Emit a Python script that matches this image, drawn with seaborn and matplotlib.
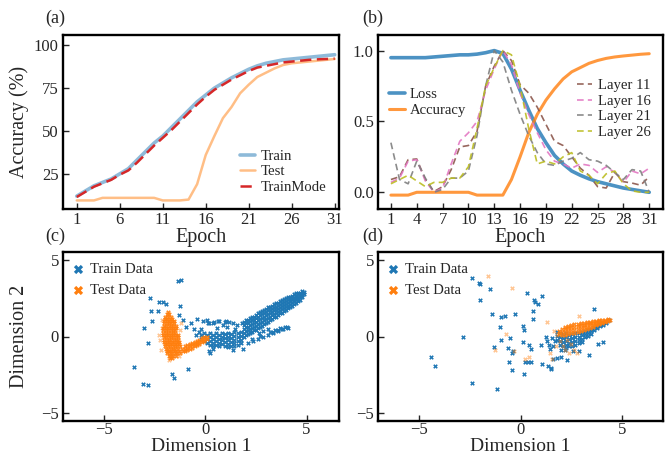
import numpy as np
import pandas as pd
import matplotlib
matplotlib.use("Agg")
import matplotlib.pyplot as plt
import seaborn as sns

sns.set_style("ticks")
plt.rcParams['font.family'] = ['Liberation Serif', 'DejaVu Serif']

# ---------------- data ----------------
epochs = list(range(1, 32))
acc_train = [12, 15, 18, 20, 22, 25, 28, 33, 38, 43, 47, 52, 57, 62, 67, 71, 75, 78, 81, 83.5,
             86, 88, 89.5, 90.5, 91.5, 92, 92.5, 93, 93.5, 94, 94.5]
acc_test = [9.5, 9.5, 9.5, 11, 11, 11, 11, 11, 11, 11, 9.5, 9.5, 9.5, 10, 19, 36, 47, 57.5, 64, 72,
            77, 81.5, 84, 86.5, 88.5, 89.5, 90, 90.5, 91, 91.5, 92]
acc_trainmode = [11.5, 14.5, 17.5, 19.5, 21.5, 24.5, 27, 31.5, 36.5, 41.5, 46, 50.5, 55.5, 60.5, 65.5,
                 70, 74, 77, 80, 82.5, 85, 87, 88, 89, 90, 90.5, 91, 91.5, 91.8, 92, 92.2]

loss_norm = [0.95, 0.95, 0.95, 0.95, 0.95, 0.955, 0.96, 0.965, 0.97, 0.97, 0.975, 0.985, 1.0, 0.98,
             0.87, 0.72, 0.58, 0.45, 0.35, 0.26, 0.2, 0.15, 0.12, 0.095, 0.075, 0.06, 0.045, 0.03,
             0.02, 0.01, 0.0]
acc_norm = [-0.02, -0.02, -0.02, 0.0, 0.0, 0.0, 0.0, 0.0, 0.0, 0.0, -0.02, -0.02, -0.02, -0.02, 0.09,
            0.25, 0.42, 0.55, 0.65, 0.73, 0.8, 0.85, 0.88, 0.91, 0.93, 0.945, 0.955, 0.962, 0.968,
            0.974, 0.978]
layer11 = [0.09, 0.11, 0.23, 0.235, 0.09, 0.005, 0.04, 0.16, 0.32, 0.33, 0.43, 0.75, 0.89, 1.0, 0.93,
           0.76, 0.70, 0.60, 0.48, 0.36, 0.33, 0.25, 0.17, 0.12, 0.04, 0.03, 0.14, 0.075, 0.065, 0.05, 0.11]
layer16 = [0.07, 0.10, 0.22, 0.23, 0.08, 0.0, 0.03, 0.20, 0.36, 0.42, 0.50, 0.72, 0.87, 1.0, 0.90,
           0.70, 0.55, 0.42, 0.30, 0.22, 0.20, 0.17, 0.20, 0.19, 0.14, 0.18, 0.14, 0.07, 0.15, 0.13, 0.17]
layer21 = [0.35, 0.09, 0.06, 0.22, 0.10, 0.0, 0.02, 0.10, 0.10, 0.15, 0.40, 0.75, 1.0, 0.92, 0.72,
           0.55, 0.40, 0.28, 0.20, 0.19, 0.22, 0.24, 0.28, 0.23, 0.22, 0.19, 0.14, 0.09, 0.16, 0.15, 0.0]
layer26 = [0.06, 0.09, 0.12, 0.08, 0.04, 0.07, 0.07, 0.10, 0.10, 0.18, 0.45, 0.75, 0.88, 1.0, 0.97,
           0.75, 0.45, 0.20, 0.22, 0.20, 0.25, 0.28, 0.15, 0.12, 0.06, 0.13, 0.15, 0.06, 0.01, 0.0, 0.0]

# ---- panel (c) embeddings ----
c_train_sparse = [
    (-1.2, 3.7), (-1.35, 3.62), (-2.71, 2.48), (-2.25, 2.22), (-2.09, 2.22), (-1.92, 2.12),
    (-2.66, 1.69), (-2.34, 1.63), (-2.62, 1.02), (-3.03, 0.57), (-1.22, 2.01), (-1.27, 1.37),
    (-1.10, 1.10), (-0.69, 0.89), (-0.39, 1.16), (-0.12, 0.99), (0.08, 1.06), (0.21, 0.85),
    (0.46, 0.95), (0.71, 0.99), (1.0, 0.95), (1.2, 0.95), (-0.94, 0.64), (-0.53, 0.48),
    (-2.80, -0.43), (-3.49, -1.97), (-3.08, -3.12), (-2.83, -3.16), (-1.65, -2.44),
    (-1.51, -2.71), (-0.86, -2.12), (-0.20, 0.47), (-0.31, 0.32), (0.13, 0.91), (0.38, 0.85),
    (0.63, 1.02), (0.87, 0.78), (1.04, 1.0), (1.37, 0.85), (1.56, 0.74), (1.83, 0.89),
    (2.19, 0.32), (2.65, 0.25), (2.85, 0.38), (3.09, 0.47), (3.34, 0.32), (3.59, 0.42),
    (3.80, 0.47), (3.96, 0.59), (4.08, 0.53), (0.21, -0.95), (0.38, -0.81), (1.37, -0.88),
    (1.86, -0.79), (0.26, -1.06), (0.6, 0.55), (1.1, 0.6), (1.5, 0.5), (-0.45, 0.1),
    (2.1, -0.4), (2.35, -0.3), (2.6, -0.15), (2.85, 0.0), (3.1, 0.1), (3.35, 0.25), (3.6, 0.35),
    (3.85, 0.5), (4.05, 0.62), (2.3, -0.15), (2.7, 0.05), (3.2, 0.3), (3.45, 0.45), (3.7, 0.55),
]
# dense band: x -> list of y
c_train_band = {
    -0.2: [0.1, -0.15], -0.05: [0.2, -0.05, -0.3], 0.1: [0.1, -0.15, -0.4],
    0.25: [0.2, -0.05, -0.3, -0.55], 0.4: [0.1, -0.15, -0.4, -0.65], 0.55: [0.2, -0.05, -0.3, -0.55],
    0.7: [0.1, -0.15, -0.4, -0.65], 0.85: [0.25, 0.0, -0.25, -0.5], 1.0: [0.15, -0.1, -0.35, -0.6],
    1.15: [0.25, 0.0, -0.25, -0.5, -0.7], 1.3: [0.15, -0.1, -0.35, -0.6],
    1.45: [0.3, 0.05, -0.2, -0.45, -0.65], 1.6: [0.2, -0.05, -0.3, -0.55],
    1.75: [0.3, 0.05, -0.2, -0.45],
}
# dense rising arm: x -> list of y
c_train_arm = {
    1.9: [0.0, 0.25, 0.5, 0.75, 0.95], 2.0: [0.1, 0.35, 0.6, 0.85, 1.05],
    2.1: [0.15, 0.4, 0.65, 0.9, 1.1], 2.2: [0.25, 0.5, 0.75, 1.0, 1.2],
    2.3: [0.3, 0.55, 0.8, 1.05, 1.25], 2.4: [0.4, 0.65, 0.9, 1.1, 1.3],
    2.5: [0.45, 0.7, 0.95, 1.2, 1.4], 2.6: [0.55, 0.8, 1.05, 1.3, 1.5],
    2.7: [0.65, 0.9, 1.15, 1.4, 1.6], 2.8: [0.7, 0.95, 1.2, 1.45, 1.65],
    2.9: [0.8, 1.05, 1.3, 1.55, 1.75], 3.0: [0.9, 1.15, 1.4, 1.6, 1.8],
    3.1: [0.95, 1.2, 1.45, 1.7, 1.9], 3.2: [1.05, 1.3, 1.5, 1.75, 1.95],
    3.3: [1.15, 1.4, 1.6, 1.8, 2.0], 3.4: [1.25, 1.45, 1.7, 1.9, 2.1],
    3.5: [1.3, 1.55, 1.75, 1.95, 2.15], 3.6: [1.4, 1.6, 1.8, 2.0, 2.2],
    3.7: [1.5, 1.7, 1.9, 2.1, 2.3], 3.8: [1.55, 1.8, 2.0, 2.2, 2.35],
    3.9: [1.65, 1.85, 2.05, 2.25, 2.45], 4.0: [1.75, 1.95, 2.1, 2.3, 2.5],
    4.1: [1.85, 2.0, 2.2, 2.4, 2.55], 4.2: [1.95, 2.1, 2.3, 2.45, 2.6],
    4.3: [2.0, 2.2, 2.35, 2.5, 2.65], 4.4: [2.1, 2.3, 2.45, 2.6, 2.75],
    4.5: [2.2, 2.35, 2.5, 2.65, 2.8], 4.6: [2.3, 2.45, 2.6, 2.75, 2.85],
    4.7: [2.4, 2.55, 2.7, 2.85], 4.8: [2.55, 2.7, 2.85, 2.95], 4.9: [2.75, 2.9],
}
# test cluster core: y -> list of x (vertical arm)
c_test_core_rows = {
    1.6: [-1.85], 1.45: [-1.9, -1.78], 1.3: [-1.95, -1.82, -1.7],
    1.15: [-1.98, -1.86, -1.74, -1.62], 1.0: [-2.0, -1.88, -1.76, -1.64, -1.52],
    0.85: [-2.02, -1.9, -1.78, -1.66, -1.54], 0.7: [-2.04, -1.92, -1.8, -1.68, -1.56, -1.45],
    0.55: [-2.05, -1.93, -1.81, -1.69, -1.57, -1.45], 0.4: [-2.06, -1.94, -1.82, -1.7, -1.58, -1.46],
    0.25: [-2.06, -1.94, -1.82, -1.7, -1.58, -1.46],
    0.1: [-2.05, -1.93, -1.81, -1.69, -1.57, -1.45, -1.35],
    -0.05: [-2.04, -1.92, -1.8, -1.68, -1.56, -1.44, -1.34],
    -0.2: [-2.02, -1.9, -1.78, -1.66, -1.54, -1.42, -1.32],
    -0.35: [-2.0, -1.88, -1.76, -1.64, -1.52, -1.4, -1.3],
    -0.5: [-1.98, -1.86, -1.74, -1.62, -1.5, -1.38, -1.26],
    -0.65: [-1.96, -1.84, -1.72, -1.6, -1.48, -1.36, -1.22],
    -0.8: [-1.94, -1.82, -1.7, -1.58, -1.46, -1.32, -1.15],
    -0.95: [-1.9, -1.78, -1.66, -1.54, -1.42, -1.28, -1.1],
    -1.1: [-1.86, -1.74, -1.62, -1.5, -1.38, -1.24], -1.25: [-1.8, -1.68, -1.56, -1.44],
    -1.4: [-1.74, -1.62],
}
# test cluster arm: x -> list of y
c_test_arm = {
    -1.0: [-0.95, -0.8, -0.65], -0.88: [-0.88, -0.73, -0.58], -0.76: [-0.8, -0.65, -0.5],
    -0.64: [-0.72, -0.57, -0.42], -0.52: [-0.64, -0.5, -0.36], -0.4: [-0.56, -0.42, -0.28],
    -0.28: [-0.48, -0.34, -0.2], -0.16: [-0.38, -0.25, -0.12], -0.04: [-0.28, -0.15, -0.03],
    0.08: [-0.15, -0.03],
}
c_test_sparse = [(-2.12, 0.53), (-2.2, -0.2), (-2.25, 0.1), (-1.25, 0.45), (-1.2, 0.9),
                 (-2.15, -0.9), (-1.76, -1.5), (-2.1, 1.1), (-1.3, -1.3)]

# ---- panel (d) embeddings ----
d_train_sparse = [
    (-2.37, 3.81), (-2.06, 3.45), (-2.0, 3.41), (-1.51, 3.11), (-2.0, 2.37), (-2.83, -0.06),
    (-4.38, -1.33), (-4.21, -1.95), (-2.37, -3.03), (-1.13, -3.39), (-1.40, 1.46),
    (-0.97, 1.25), (-0.76, 1.33), (-0.99, 0.59), (-0.95, -0.21), (-1.28, -0.70),
    (-0.53, -0.13), (-0.59, -0.74), (-0.38, -0.97), (-0.43, -1.06), (-0.25, 1.48),
    (-0.44, -2.18), (-0.58, -1.69), (0.16, -2.44), (0.10, 0.70), (0.15, 0.42), (0.10, -0.36),
    (0.33, 2.86), (0.67, 2.39), (0.69, 2.27), (0.84, 2.10), (1.07, 2.61), (0.63, 1.63),
    (0.63, 1.17), (0.21, -1.65), (0.38, -1.65), (0.51, -1.65), (0.43, -0.57), (0.51, -0.81),
    (1.0, -0.55), (1.04, -1.80), (1.37, -1.91), (1.48, -2.12), (1.50, -2.03), (1.25, 0.0),
    (1.32, -0.30), (1.40, -0.53), (1.45, -0.81), (1.61, -1.48), (1.81, -1.42), (1.99, -1.33),
    (2.27, -1.53), (2.88, -0.93), (3.36, -1.19), (3.63, 1.78), (3.83, -0.47), (4.05, -0.34),
    (1.6, -0.6), (1.7, -0.3), (2.2, -0.9), (2.6, -0.95), (2.0, -0.85), (1.55, -0.1),
]
d_train_core = {
    1.8: [0.3, 0.05, -0.2], 1.95: [0.2, -0.05, -0.3, -0.55], 2.1: [0.15, -0.1, -0.35, -0.6],
    2.25: [0.2, -0.05, -0.3, -0.55, -0.75], 2.4: [0.1, -0.15, -0.4, -0.65],
    2.55: [0.15, -0.1, -0.35, -0.6], 2.7: [0.2, -0.05, -0.3, -0.55], 2.85: [0.25, 0.0, -0.25, -0.45],
    3.0: [0.3, 0.1, -0.15, -0.35], 3.15: [0.35, 0.15, -0.05], 3.3: [0.45, 0.25, 0.05],
    3.45: [0.5, 0.35, 0.15], 3.6: [0.6, 0.45], 3.75: [0.7, 0.55], 3.9: [0.8, 0.68],
    4.05: [0.88, 0.78], 4.2: [0.95, 0.88], 4.35: [1.05],
}
d_test_core = {
    1.9: [0.15, 0.35], 2.05: [0.1, 0.3, 0.5], 2.2: [0.1, 0.3, 0.5, 0.65],
    2.35: [0.15, 0.35, 0.55, 0.7], 2.5: [0.2, 0.4, 0.6, 0.75], 2.65: [0.25, 0.45, 0.62, 0.8],
    2.8: [0.3, 0.5, 0.68, 0.82], 2.95: [0.35, 0.55, 0.72, 0.86], 3.1: [0.45, 0.6, 0.76, 0.9],
    3.25: [0.5, 0.65, 0.8, 0.92], 3.4: [0.58, 0.72, 0.85, 0.96], 3.55: [0.65, 0.78, 0.9, 1.0],
    3.7: [0.72, 0.84, 0.95, 1.02], 3.85: [0.8, 0.9, 1.0, 1.05], 4.0: [0.86, 0.96, 1.05],
    4.15: [0.92, 1.02, 1.1], 4.3: [1.0, 1.08, 1.13], 4.42: [1.1],
}
d_test_sparse = [
    (-1.60, 3.92), (-0.44, 3.18), (-0.72, 0.17), (-1.23, -0.85), (-0.31, -0.97), (0.21, -1.44),
    (0.43, -1.33), (1.28, 0.93), (1.45, -1.06), (1.53, -1.48), (2.1, -0.64), (2.19, -0.85),
    (2.4, -1.06), (2.76, -1.06), (2.65, -0.85), (2.88, 1.31), (2.27, -0.21), (1.8, 0.1),
    (1.95, -0.3), (1.65, 0.35), (1.75, -0.6), (2.5, -0.5),
]


def cols_to_df(d):
    return pd.DataFrame([(x, y) for x, ys in d.items() for y in ys], columns=["Dim1", "Dim2"])


def rows_to_df(d):
    return pd.DataFrame([(x, y) for y, xs in d.items() for x in xs], columns=["Dim1", "Dim2"])


def pts_to_df(p):
    return pd.DataFrame(p, columns=["Dim1", "Dim2"])


# ---------------- figure ----------------
BLUE = "#1f77b4"
ORANGE = "#ff7f0e"
W, H = 670, 455
fig = plt.figure(figsize=(W / 100, H / 100), dpi=100)


def box(l, t, r, b):
    return [l / W, (H - b) / H, (r - l) / W, (b - t) / H]


axa = fig.add_axes(box(63, 35, 339, 209))
axb = fig.add_axes(box(378, 35, 663, 209))
axc = fig.add_axes(box(63, 252, 339, 421))
axd = fig.add_axes(box(378, 252, 663, 421))

TICK_FS = 12
LEG_FS = 10.6
LAB_FS = 14.5
LEG_KW = dict(frameon=False, fontsize=LEG_FS, handlelength=1.05, handletextpad=0.35,
              labelspacing=0.15, borderpad=0, borderaxespad=0)
for ax in (axa, axb, axc, axd):
    for s in ax.spines.values():
        s.set_linewidth(1.7)
        s.set_color("black")
    ax.tick_params(direction="in", length=4, width=1.0, labelsize=TICK_FS, pad=3)
    ax.tick_params(axis="x", pad=2)

# (a)
da = pd.DataFrame({"Epoch": epochs, "Train": acc_train, "Test": acc_test, "TrainMode": acc_trainmode})
sns.lineplot(data=da, x="Epoch", y="Train", ax=axa, color=BLUE, alpha=0.5, lw=2.6, label="Train")
sns.lineplot(data=da, x="Epoch", y="Test", ax=axa, color=ORANGE, alpha=0.5, lw=1.8, label="Test")
sns.lineplot(data=da, x="Epoch", y="TrainMode", ax=axa, color="#d62728", lw=1.8,
             linestyle=(0, (4.5, 2.2)), label="TrainMode")
axa.set_xlim(-0.6, 31.5)
axa.set_ylim(4.5, 106)
axa.set_xticks(list(range(1, 32, 5)))
axa.set_yticks([25, 50, 75, 100])
axa.set_xlabel("Epoch", fontsize=LAB_FS, labelpad=0)
axa.set_ylabel("Accuracy (%)", fontsize=LAB_FS)
axa.yaxis.set_label_coords(-0.125, 0.5)
axa.legend(loc="upper left", bbox_to_anchor=(0.641, 0.342), **LEG_KW)

# (b)
db = pd.DataFrame({"Epoch": epochs, "Loss": loss_norm, "Accuracy": acc_norm,
                   "Layer 11": layer11, "Layer 16": layer16, "Layer 21": layer21, "Layer 26": layer26})
sns.lineplot(data=db, x="Epoch", y="Loss", ax=axb, color=BLUE, alpha=0.8, lw=2.6)
sns.lineplot(data=db, x="Epoch", y="Accuracy", ax=axb, color=ORANGE, alpha=0.8, lw=2.2)
layer_cols = {"Layer 11": "#8c564b", "Layer 16": "#e377c2", "Layer 21": "#7f7f7f", "Layer 26": "#bcbd22"}
for name, col in layer_cols.items():
    sns.lineplot(data=db, x="Epoch", y=name, ax=axb, color=col, lw=1.2, alpha=0.9,
                 linestyle=(0, (4, 2.5)))
lines = axb.get_lines()
leg1 = axb.legend(lines[:2], ["Loss", "Accuracy"], loc="upper left", bbox_to_anchor=(0.039, 0.695),
                  **LEG_KW)
axb.add_artist(leg1)
axb.legend(lines[2:6], list(layer_cols.keys()), loc="upper left", bbox_to_anchor=(0.698, 0.748),
           **LEG_KW)
axb.set_xlim(-0.5, 32.6)
axb.set_ylim(-0.118, 1.11)
axb.set_xticks(list(range(1, 32, 3)))
axb.set_yticks([0.0, 0.5, 1.0])
axb.set_xlabel("Epoch", fontsize=LAB_FS, labelpad=0)
axb.set_ylabel("")

# (c), (d)
MS = 11
panels = (
    (axc, [pts_to_df(c_train_sparse), cols_to_df(c_train_band), cols_to_df(c_train_arm)],
     [rows_to_df(c_test_core_rows), cols_to_df(c_test_arm)], pts_to_df(c_test_sparse), (-7.0, 6.6)),
    (axd, [pts_to_df(d_train_sparse), cols_to_df(d_train_core)],
     [cols_to_df(d_test_core)], pts_to_df(d_test_sparse), (-7.0, 7.0)),
)
for ax, tr_parts, te_core, te_sparse, xr in panels:
    dtr = pd.concat(tr_parts, ignore_index=True)
    dte = pd.concat(te_core, ignore_index=True)
    sns.scatterplot(data=dtr, x="Dim1", y="Dim2", ax=ax, marker="X", s=MS, color=BLUE,
                    linewidth=0, label="Train Data")
    sns.scatterplot(data=te_sparse, x="Dim1", y="Dim2", ax=ax, marker="X", s=MS, color=ORANGE,
                    linewidth=0, alpha=0.45)
    sns.scatterplot(data=dte, x="Dim1", y="Dim2", ax=ax, marker="X", s=MS, color=ORANGE,
                    linewidth=0, alpha=0.9, label="Test Data")
    ax.set_xlim(*xr)
    ax.set_ylim(-5.5, 5.5)
    ax.set_xticks([-5, 0, 5])
    ax.set_yticks([-5, 0, 5])
    ax.set_yticklabels(["\u22125", "0", "5"])
    ax.set_xticklabels(["\u22125", "0", "5"])
    ax.tick_params(axis="x", pad=0.5)
    ax.set_xlabel("Dimension 1", fontsize=14, labelpad=0)
    ax.set_ylabel("")
    leg = ax.legend(loc="upper left", frameon=False, fontsize=LEG_FS, markerscale=2.0,
                    handlelength=0.6, handletextpad=0.5, labelspacing=0.5, borderaxespad=0.35)
    for h in leg.legend_handles:
        h.set_alpha(1)
axc.set_ylabel("Dimension 2", fontsize=LAB_FS)
axc.yaxis.set_label_coords(-0.125, 0.5)

# panel labels
for lab, x, y in (("(a)", 45, 18), ("(b)", 362, 18), ("(c)", 45, 236), ("(d)", 362, 236)):
    fig.text(x / W, 1 - y / H, lab, fontsize=13, ha="left", va="center")

fig.savefig("out.png", dpi=100)
